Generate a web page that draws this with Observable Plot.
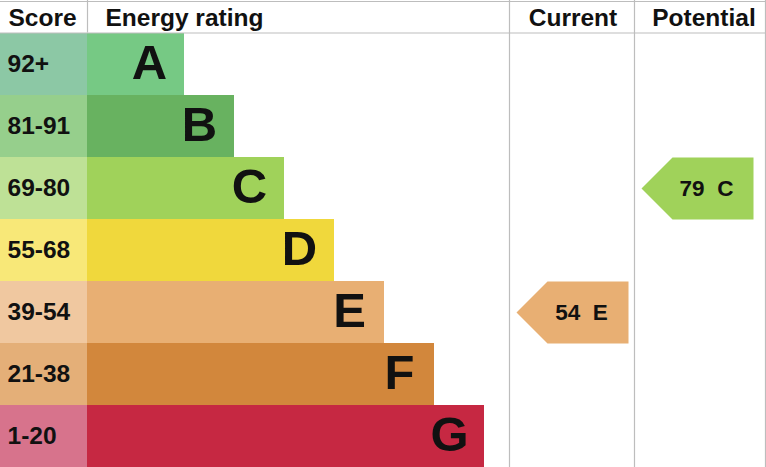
<!DOCTYPE html>
<html><head><meta charset="utf-8">
<script src="https://cdn.jsdelivr.net/npm/d3@7"></script>
<script src="https://cdn.jsdelivr.net/npm/@observablehq/plot@0.6"></script>
<style>body{margin:0;background:#fff} svg{display:block}</style>
</head><body><div id="chart"></div>
<script>
const bands = ["A","B","C","D","E","F","G"];
const scoreLabels = ["92+","81-91","69-80","55-68","39-54","21-38","1-20"];
const bandMins = [92,81,69,55,39,21,1];
const barColors = ["#76c984","#68b260","#a0d25a","#f0d83c","#e8af73","#d2873c","#c62842"];
const scoreColors = ["#8cc8a5","#96cf8c","#bee196","#f8e878","#f0c8a0","#e4af78","#d7738c"];
const headers = ["Score","Energy rating","Current","Potential"];
const currentScore = 54;
const potentialScore = 79;

// layout
const W = 766, H = 467;
const headTop = 1, headBottom = 32.5, rowTop = 33, rowH = 62;
const scoreW = 87, barA = 97, barStep = 50;
const colCur = [509, 634], colPot = [634, 765];
const gridColor = "#bdbdbd";

const rows = bands.map((b, i) => ({
  band: b, label: scoreLabels[i], bar: barColors[i], cell: scoreColors[i],
  y1: rowTop + i * rowH, y2: rowTop + (i + 1) * rowH,
  x2: scoreW + barA + barStep * i
}));

const bandIndex = s => bandMins.findIndex(m => s >= m);
function arrow(score, col) {
  const i = bandIndex(score), r = rows[i];
  const left = col[0] + 7, right = left + 112, tip = 31;
  const ym = (r.y1 + r.y2) / 2;
  return {
    pts: [[left, ym], [left + tip, r.y1], [right, r.y1], [right, r.y2], [left + tip, r.y2]].map(([x, y]) => ({x, y})),
    color: r.bar, text: `${score}\u00a0\u00a0${r.band}`, tx: left + 65, ty: ym
  };
}
const cur = arrow(currentScore, colCur);
const pot = arrow(potentialScore, colPot);

const headLeft = [{t: headers[0], x: 8}, {t: headers[1], x: 105}];
const headMid = [
  {t: headers[2], x: (colCur[0] + colCur[1]) / 2 + 1},
  {t: headers[3], x: (colPot[0] + colPot[1]) / 2 + 4}
];

const font = "'Liberation Sans', Arial, sans-serif";
const chart = Plot.plot({
  width: W, height: H,
  margin: 0,
  x: {domain: [0, W], range: [0, W], axis: null},
  y: {domain: [0, H], range: [0, H], axis: null},
  style: {fontFamily: font, background: "#fff"},
  marks: [
    Plot.rect(rows, {x1: 0, x2: scoreW, y1: "y1", y2: "y2", fill: d => d.cell}),
    Plot.rect(rows, {x1: scoreW, x2: "x2", y1: "y1", y2: "y2", fill: d => d.bar}),
    Plot.text(rows, {x: 7, y: d => (d.y1 + d.y2) / 2, text: "label", textAnchor: "start", fontSize: 24.5, fontWeight: "bold", fill: "#111"}),
    Plot.text(rows, {x: d => d.x2 - 35, y: d => (d.y1 + d.y2) / 2 - 1, text: "band", textAnchor: "middle", fontSize: 49, fontWeight: "bold", fill: "#111"}),
    Plot.ruleY([headTop, headBottom], {x1: 0, x2: W, stroke: gridColor, strokeWidth: 1.2}),
    Plot.ruleX([scoreW], {y1: 0, y2: headBottom, stroke: gridColor, strokeWidth: 1.2}),
    Plot.ruleX([colCur[0], colPot[0], colPot[1]], {y1: 0, y2: H, stroke: gridColor, strokeWidth: 1.2}),
    Plot.line(cur.pts, {x: "x", y: "y", fill: cur.color, stroke: "none", curve: "linear-closed"}),
    Plot.line(pot.pts, {x: "x", y: "y", fill: pot.color, stroke: "none", curve: "linear-closed"}),
    Plot.text([cur, pot], {x: "tx", y: "ty", text: "text", textAnchor: "middle", fontSize: 22.5, fontWeight: "bold", fill: "#111"}),
    Plot.text(headLeft, {x: "x", y: 18, text: "t", textAnchor: "start", fontSize: 24.5, fontWeight: "bold", fill: "#111"}),
    Plot.text(headMid, {x: "x", y: 18, text: "t", textAnchor: "middle", fontSize: 24.5, fontWeight: "bold", fill: "#111"})
  ]
});
document.getElementById("chart").append(chart);
</script>
</body></html>
